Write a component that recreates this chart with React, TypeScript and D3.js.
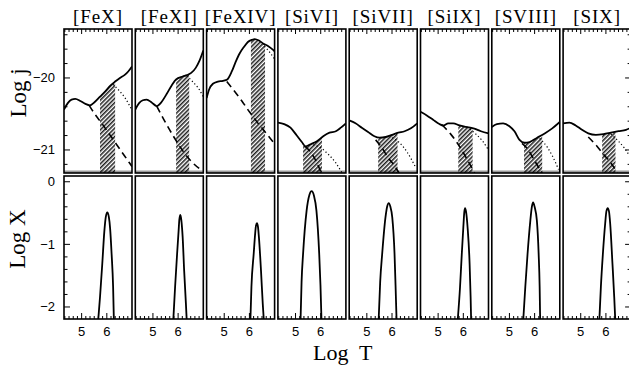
import React from 'react';
import * as d3 from 'd3';

type P = [number, number];

// ---------- data ----------
const ionLabels = ['[FeX]', '[FeXI]', '[FeXIV]', '[SiVI]', '[SiVII]', '[SiIX]', '[SVIII]', '[SIX]'];

// Log j total emissivity (solid), per ion: [logT, logj]
const totalFeX: P[] = [[4.30,-20.44],[4.45,-20.35],[4.6,-20.30],[4.75,-20.29],[4.95,-20.32],[5.15,-20.36],[5.33,-20.38],[5.5,-20.34],[5.73,-20.26],[5.93,-20.19],[6.13,-20.11],[6.33,-20.05],[6.52,-20.00],[6.7,-19.96],[6.85,-19.91],[7.0,-19.84]];
const totalFeXI: P[] = [[4.30,-20.44],[4.45,-20.35],[4.6,-20.31],[4.75,-20.30],[4.95,-20.34],[5.15,-20.39],[5.35,-20.33],[5.55,-20.22],[5.75,-20.10],[5.92,-20.02],[6.18,-19.98],[6.35,-19.96],[6.52,-19.93],[6.7,-19.86],[6.85,-19.76],[7.0,-19.62]];
const totalFeXIV: P[] = [[4.30,-20.28],[4.40,-20.16],[4.55,-20.08],[4.75,-20.05],[4.95,-20.04],[5.12,-20.02],[5.3,-19.91],[5.45,-19.78],[5.61,-19.66],[5.78,-19.57],[5.94,-19.50],[6.1,-19.47],[6.21,-19.46],[6.38,-19.48],[6.54,-19.52],[6.75,-19.56],[6.94,-19.61],[7.0,-19.63]];
const totalSiVI: P[] = [[4.30,-20.62],[4.55,-20.64],[4.8,-20.69],[5.05,-20.80],[5.25,-20.89],[5.40,-20.95],[5.6,-20.92],[5.85,-20.88],[6.1,-20.81],[6.35,-20.76],[6.6,-20.74],[6.8,-20.69],[7.0,-20.63]];
const totalSiVII: P[] = [[4.30,-20.59],[4.55,-20.63],[4.8,-20.69],[5.05,-20.75],[5.3,-20.81],[5.5,-20.83],[5.75,-20.82],[6.0,-20.79],[6.25,-20.76],[6.5,-20.74],[6.75,-20.70],[7.0,-20.63]];
const totalSiIX: P[] = [[4.30,-20.47],[4.55,-20.52],[4.8,-20.58],[5.05,-20.64],[5.2,-20.66],[5.4,-20.63],[5.6,-20.63],[5.85,-20.66],[6.1,-20.68],[6.4,-20.70],[6.7,-20.74],[7.0,-20.77]];
const totalSVIII: P[] = [[4.30,-20.68],[4.5,-20.64],[4.75,-20.63],[5.0,-20.67],[5.2,-20.74],[5.4,-20.86],[5.6,-20.90],[5.8,-20.89],[6.1,-20.83],[6.4,-20.77],[6.7,-20.70],[7.0,-20.61]];
const totalSIX: P[] = [[4.30,-20.63],[4.55,-20.62],[4.8,-20.66],[5.05,-20.72],[5.3,-20.77],[5.6,-20.79],[5.9,-20.78],[6.2,-20.76],[6.5,-20.74],[6.8,-20.72],[7.0,-20.69]];

// dashed component
const dashFeX: P[] = [[5.3,-20.38],[5.5,-20.49],[5.8,-20.63],[6.1,-20.78],[6.4,-20.93],[6.7,-21.08],[7.0,-21.23]];
const dashFeXI: P[] = [[5.15,-20.39],[5.5,-20.62],[5.85,-20.83],[6.2,-21.02],[6.5,-21.15],[6.92,-21.28]];
const dashFeXIV: P[] = [[5.1,-20.05],[5.4,-20.18],[5.7,-20.32],[6.0,-20.47],[6.3,-20.61],[6.6,-20.74],[6.94,-20.89]];
const dashSiVI: P[] = [[5.38,-20.95],[5.6,-21.03],[5.85,-21.18],[6.02,-21.32]];
const dashSiVII: P[] = [[5.35,-20.86],[5.6,-20.97],[5.85,-21.11],[6.1,-21.22],[6.28,-21.32]];
const dashSiIX: P[] = [[5.15,-20.65],[5.5,-20.78],[5.85,-20.95],[6.15,-21.13],[6.45,-21.32]];
const dashSVIII: P[] = [[5.5,-20.91],[5.75,-21.0],[6.0,-21.15],[6.3,-21.32]];
const dashSIX: P[] = [[5.3,-20.82],[5.6,-20.93],[5.9,-21.06],[6.2,-21.18],[6.45,-21.32]];

// dotted component
const dotFeX: P[] = [[6.25,-20.09],[6.5,-20.18],[6.75,-20.29],[7.0,-20.45]];
const dotFeXI: P[] = [[6.35,-19.97],[6.6,-20.06],[6.8,-20.14],[7.0,-20.26]];
const dotFeXIV: P[] = [[6.6,-19.56],[6.8,-19.64],[7.0,-19.74]];
const dotSiVI: P[] = [[5.7,-20.93],[6.0,-20.97],[6.3,-21.06],[6.6,-21.18],[6.85,-21.32]];
const dotSiVII: P[] = [[6.0,-20.83],[6.3,-20.90],[6.6,-21.03],[6.95,-21.25]];
const dotSiIX: P[] = [[6.15,-20.68],[6.5,-20.78],[6.75,-20.87],[7.0,-21.0]];
const dotSVIII: P[] = [[6.2,-20.84],[6.5,-20.96],[6.7,-21.08],[6.95,-21.27]];
const dotSIX: P[] = [[6.2,-20.78],[6.5,-20.88],[6.75,-20.98],[7.0,-21.12]];

// hatched logT ranges
const hatchRanges: P[] = [[5.73,6.33],[5.92,6.44],[6.06,6.62],[5.30,6.05],[5.45,6.22],[5.8,6.37],[5.58,6.30],[5.85,6.38]];

// Log X ionisation fractions: [logT, logX]
const fracFeX: P[] = [[5.66,-2.2],[5.73,-1.84],[5.82,-1.31],[5.90,-0.80],[5.96,-0.56],[6.02,-0.49],[6.08,-0.56],[6.13,-0.74],[6.19,-1.15],[6.25,-1.68],[6.28,-2.2]];
const fracFeXI: P[] = [[5.81,-2.2],[5.88,-1.68],[5.96,-1.15],[6.02,-0.78],[6.05,-0.6],[6.09,-0.53],[6.13,-0.62],[6.18,-0.88],[6.24,-1.42],[6.31,-1.95],[6.34,-2.2]];
const fracFeXIV: P[] = [[6.04,-2.2],[6.08,-1.68],[6.17,-1.15],[6.23,-0.82],[6.26,-0.70],[6.30,-0.66],[6.34,-0.72],[6.38,-0.9],[6.46,-1.42],[6.53,-1.95],[6.57,-2.2]];
const fracSiVI: P[] = [[5.20,-2.2],[5.24,-1.6],[5.30,-1.15],[5.44,-0.46],[5.55,-0.21],[5.64,-0.15],[5.73,-0.22],[5.83,-0.46],[5.94,-1.15],[5.99,-1.65],[6.03,-2.2]];
const fracSiVII: P[] = [[5.47,-2.2],[5.53,-1.6],[5.61,-1.15],[5.74,-0.57],[5.81,-0.39],[5.87,-0.34],[5.93,-0.39],[6.01,-0.57],[6.10,-1.15],[6.14,-1.65],[6.18,-2.2]];
const fracSiIX: P[] = [[5.78,-2.2],[5.87,-1.68],[5.94,-1.15],[6.0,-0.73],[6.04,-0.48],[6.07,-0.42],[6.11,-0.48],[6.17,-0.73],[6.25,-1.31],[6.29,-1.84],[6.31,-2.2]];
const fracSVIII: P[] = [[5.55,-2.2],[5.63,-1.68],[5.72,-1.15],[5.83,-0.62],[5.89,-0.40],[5.94,-0.33],[6.0,-0.40],[6.09,-0.62],[6.16,-1.15],[6.20,-1.68],[6.22,-2.2]];
const fracSIX: P[] = [[5.74,-2.2],[5.80,-1.68],[5.88,-1.15],[5.97,-0.67],[6.02,-0.47],[6.07,-0.42],[6.12,-0.47],[6.17,-0.67],[6.26,-1.31],[6.33,-1.84],[6.37,-2.2]];

const totals = [totalFeX, totalFeXI, totalFeXIV, totalSiVI, totalSiVII, totalSiIX, totalSVIII, totalSIX];
const dashes = [dashFeX, dashFeXI, dashFeXIV, dashSiVI, dashSiVII, dashSiIX, dashSVIII, dashSIX];
const dots = [dotFeX, dotFeXI, dotFeXIV, dotSiVI, dotSiVII, dotSiIX, dotSVIII, dotSIX];
const fracs = [fracFeX, fracFeXI, fracFeXIV, fracSiVI, fracSiVII, fracSiIX, fracSVIII, fracSIX];

const xTickLabels = [5, 6];
const jTickLabels = [-20, -21];
const xFracTickLabels = [0, -1, -2];

// ---------- layout ----------
const W = 629, H = 367;
const panelLeft = 64, panelStep = 71.3, panelW = 68;
const topY0 = 29, topY1 = 173, botY0 = 176, botY1 = 319;
const tDomain: P = [4.3, 7.0];

const serif = '"Liberation Serif", "Times New Roman", serif';
const sans = '"Liberation Sans", Arial, sans-serif';

export default function App() {
  const yTop = d3.scaleLinear().domain([-21.32, -19.32]).range([topY1, topY0]);
  const yBot = d3.scaleLinear().domain([-2.2, 0.1]).range([botY1 + 0.5, botY0 - 0.5]);

  const minorT = d3.range(-4, 12).map(k => 5 + k / 6);
  const jTicks = d3.range(-21.2, -19.3, 0.2).map(v => Math.round(v * 10) / 10);
  const xfTicks = d3.range(-2.0, 0.01, 0.2).map(v => Math.round(v * 10) / 10);

  const panels = ionLabels.map((lab, i) => {
    const L = panelLeft + i * panelStep;
    const x = d3.scaleLinear().domain(tDomain).range([L, L + panelW]);
    const line = d3.line<P>().x(d => x(d[0])).y(d => yTop(d[1])).curve(d3.curveMonotoneX);
    const lineB = d3.line<P>().x(d => x(d[0])).y(d => yBot(d[1])).curve(d3.curveMonotoneX);
    const area = d3.area<P>().x(d => x(d[0])).y0(topY1).y1(d => yTop(d[1])).curve(d3.curveMonotoneX);
    const [h0, h1] = hatchRanges[i];
    const isMajor = (t: number) => Math.abs(t - Math.round(t)) < 1e-6;
    return (
      <g key={lab}>
        <defs>
          <clipPath id={`pt${i}`}><rect x={L} y={topY0} width={panelW} height={topY1 - topY0} /></clipPath>
          <clipPath id={`pb${i}`}><rect x={L} y={botY0} width={panelW} height={botY1 - botY0} /></clipPath>
          <clipPath id={`under${i}`}><path d={area(totals[i]) || ''} /></clipPath>
        </defs>
        <text x={L + panelW / 2} y={23} textAnchor="middle" fontFamily={serif} fontSize={19} letterSpacing={0.9}>{lab}</text>
        {/* top panel */}
        <rect x={L} y={topY1 - 2.5} width={panelW} height={2.5} fill="#9a9a9a" />
        <g clipPath={`url(#pt${i})`}>
          <g clipPath={`url(#under${i})`}>
            <rect x={x(h0)} y={topY0} width={x(h1) - x(h0)} height={topY1 - topY0} fill="url(#hatch)" />
          </g>
          <path d={line(dashes[i]) || ''} fill="none" stroke="#000" strokeWidth={1.6} strokeDasharray="7,4.5" />
          <path d={line(dots[i]) || ''} fill="none" stroke="#000" strokeWidth={1.2} strokeDasharray="1.2,2.4" />
          <path d={line(totals[i]) || ''} fill="none" stroke="#000" strokeWidth={1.8} />
        </g>
        {minorT.map(t => (
          <line key={`tt${t}`} x1={x(t)} x2={x(t)} y1={topY0} y2={topY0 + (isMajor(t) ? 5 : 3)} stroke="#000" strokeWidth={1} />
        ))}
        <rect x={L} y={topY0} width={panelW} height={topY1 - topY0} fill="none" stroke="#000" strokeWidth={1.6} />
        {/* bottom panel */}
        <g clipPath={`url(#pb${i})`}>
          <path d={lineB(fracs[i]) || ''} fill="none" stroke="#000" strokeWidth={1.8} />
        </g>
        {minorT.map(t => (
          <line key={`bt${t}`} x1={x(t)} x2={x(t)} y1={botY1} y2={botY1 - (isMajor(t) ? 6 : 3)} stroke="#000" strokeWidth={1} />
        ))}
        <rect x={L} y={botY0} width={panelW} height={botY1 - botY0} fill="none" stroke="#000" strokeWidth={1.6} />
        {xTickLabels.map(t => (
          <text key={`xl${t}`} x={x(t)} y={336} textAnchor="middle" fontFamily={sans} fontSize={13}>{t}</text>
        ))}
      </g>
    );
  });

  const Lfirst = panelLeft;
  const Rlast = panelLeft + 7 * panelStep + panelW;

  return (
    <svg width={W} height={H} style={{ position: 'absolute', left: 0, top: 0, background: '#fff' }}>
      <defs>
        <pattern id="hatch" patternUnits="userSpaceOnUse" width={3} height={3} patternTransform="rotate(45)">
          <line x1={0.8} y1={0} x2={0.8} y2={3} stroke="#000" strokeWidth={1.35} />
        </pattern>
      </defs>
      <rect x={0} y={0} width={W} height={H} fill="#fff" />
      {panels}
      {/* left y ticks */}
      {jTicks.map(v => {
        const maj = Number.isInteger(v);
        return <line key={`jl${v}`} x1={Lfirst} x2={Lfirst + (maj ? 6 : 3.5)} y1={yTop(v)} y2={yTop(v)} stroke="#000" strokeWidth={1} />;
      })}
      {jTicks.map(v => {
        const maj = Number.isInteger(v);
        return <line key={`jr${v}`} x1={Rlast} x2={Rlast - (maj ? 6 : 3.5)} y1={yTop(v)} y2={yTop(v)} stroke="#000" strokeWidth={1} />;
      })}
      {xfTicks.map(v => {
        const maj = Number.isInteger(v);
        return <line key={`xl${v}`} x1={Lfirst} x2={Lfirst + (maj ? 6 : 3.5)} y1={yBot(v)} y2={yBot(v)} stroke="#000" strokeWidth={1} />;
      })}
      {xfTicks.map(v => {
        const maj = Number.isInteger(v);
        return <line key={`xr${v}`} x1={Rlast} x2={Rlast - (maj ? 6 : 3.5)} y1={yBot(v)} y2={yBot(v)} stroke="#000" strokeWidth={1} />;
      })}
      {jTickLabels.map(v => (
        <text key={`jt${v}`} x={55} y={yTop(v) + 4.5} textAnchor="end" fontFamily={sans} fontSize={13}>{`\u2212${Math.abs(v)}`}</text>
      ))}
      {xFracTickLabels.map(v => (
        <text key={`xt${v}`} x={55} y={yBot(v) + 4.5} textAnchor="end" fontFamily={sans} fontSize={13}>{v === 0 ? '0' : `\u2212${Math.abs(v)}`}</text>
      ))}
      <text transform="translate(26,93) rotate(-90)" textAnchor="middle" fontFamily={serif} fontSize={23}>Log j</text>
      <text transform="translate(25,239) rotate(-90)" textAnchor="middle" fontFamily={serif} fontSize={23}>Log X</text>
      <text x={313} y={360} fontFamily={serif} fontSize={22} style={{ whiteSpace: 'pre' }}>Log  T</text>
    </svg>
  );
}
